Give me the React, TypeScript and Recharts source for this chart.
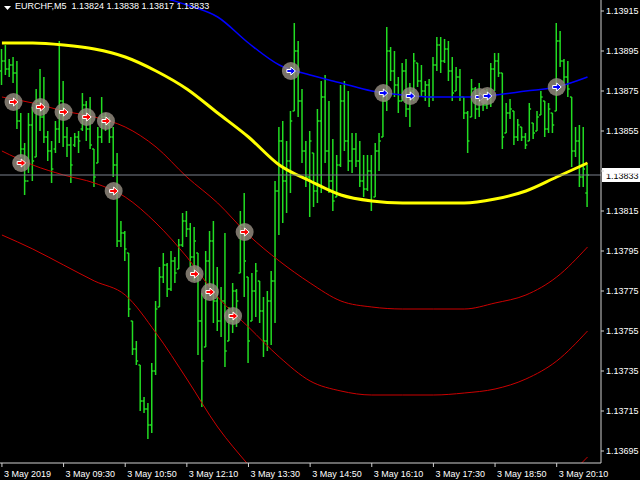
import { ComposedChart, Bar, Line, Scatter, XAxis, YAxis, ReferenceLine } from 'recharts'

const FONT = '"Liberation Sans", Arial, sans-serif'
const BAR = '#22dd22'
const RED = '#cc0000'

const symbol = 'EURCHF,M5'
const timeLabels = ['3 May 2019', '3 May 09:30', '3 May 10:50', '3 May 12:10', '3 May 13:30', '3 May 14:50', '3 May 16:10', '3 May 17:30', '3 May 18:50', '3 May 20:10']
const priceTicks = [1.13915, 1.13895, 1.13875, 1.13855, 1.13835, 1.13815, 1.13795, 1.13775, 1.13755, 1.13735, 1.13715, 1.13695]

// 5 minute bars, 08:10 .. 20:50
const opens = [
  1.13885, 1.1389, 1.13886, 1.13888, 1.13884, 1.1386, 1.13846, 1.1383, 1.13858, 1.13842,
  1.1387, 1.13862, 1.13852, 1.13845, 1.13846, 1.13856, 1.1387, 1.13852, 1.13848, 1.13848,
  1.13852, 1.13856, 1.13868, 1.13856, 1.13846, 1.13839, 1.13852, 1.13862, 1.13858, 1.13852,
  1.13838, 1.138, 1.13804, 1.13794, 1.1376, 1.13746, 1.13738, 1.1372, 1.13716, 1.13708,
  1.13735, 1.13767, 1.13782, 1.13788, 1.13776, 1.1379, 1.13786, 1.13798, 1.1381, 1.13806,
  1.13792, 1.13794, 1.1376, 1.13747, 1.1379, 1.138, 1.1377, 1.1376, 1.1377, 1.1375,
  1.1376, 1.13775, 1.13784, 1.13808, 1.13782, 1.1376, 1.13775, 1.1378, 1.13765, 1.1375,
  1.1377, 1.1378, 1.13825, 1.1385, 1.1383, 1.1384, 1.13865, 1.13895, 1.1387, 1.13845,
  1.13832, 1.13844, 1.13825, 1.1386, 1.13872, 1.13845, 1.1383, 1.13822, 1.13838, 1.1387,
  1.1385, 1.1384, 1.13846, 1.1384, 1.1383, 1.13826, 1.13835, 1.13822, 1.13845, 1.13852,
  1.1387, 1.13895, 1.13885, 1.13878, 1.1387, 1.13885, 1.13866, 1.13875, 1.13889, 1.1388,
  1.13875, 1.13878, 1.13872, 1.13888, 1.13898, 1.1389, 1.13896, 1.13885, 1.13875, 1.13882,
  1.13872, 1.13864, 1.13862, 1.13876, 1.13866, 1.13874, 1.13868, 1.13873, 1.13886, 1.1389,
  1.13884, 1.13854, 1.13864, 1.13865, 1.13852, 1.13857, 1.13852, 1.1385, 1.13859, 1.13855,
  1.13863, 1.1387, 1.13856, 1.13864, 1.13865, 1.139, 1.1389, 1.13882, 1.13872, 1.13845,
  1.1385, 1.13832, 1.13824,
]
const highs = [
  1.13896, 1.13898, 1.13891, 1.13892, 1.1389, 1.13864, 1.13849, 1.13864, 1.13867, 1.13876,
  1.13886, 1.13882, 1.13855, 1.1385, 1.1386, 1.139, 1.1388, 1.13857, 1.13852, 1.13854,
  1.13855, 1.13874, 1.1387, 1.13872, 1.13846, 1.13857, 1.13872, 1.13864, 1.13862, 1.13857,
  1.13844, 1.1381, 1.13805, 1.13794, 1.1376, 1.1375, 1.13738, 1.13722, 1.13719, 1.13739,
  1.1377, 1.13787, 1.13794, 1.13789, 1.13795, 1.13792, 1.13801, 1.13814, 1.13815, 1.13809,
  1.13807, 1.13794, 1.13774, 1.13795, 1.13805, 1.1381, 1.13787, 1.13777, 1.13804, 1.13767,
  1.13779, 1.13776, 1.13815, 1.13824, 1.13782, 1.13784, 1.13789, 1.1378, 1.13772, 1.13775,
  1.13785, 1.1383, 1.13857, 1.1386, 1.1385, 1.13865, 1.13909, 1.139, 1.13876, 1.1385,
  1.13855, 1.13844, 1.13866, 1.1388, 1.13883, 1.1387, 1.13851, 1.13843, 1.13878, 1.1388,
  1.13875, 1.13854, 1.13854, 1.1385, 1.13843, 1.13843, 1.13843, 1.13849, 1.13854, 1.13875,
  1.13907, 1.13897, 1.13895, 1.13882, 1.13889, 1.13891, 1.13879, 1.13894, 1.13889, 1.13888,
  1.1388, 1.13881, 1.13892, 1.13902, 1.13902, 1.13901, 1.139, 1.13892, 1.13887, 1.13886,
  1.13872, 1.13865, 1.13881, 1.13877, 1.13879, 1.13874, 1.13876, 1.13889, 1.13894, 1.13894,
  1.13884, 1.13869, 1.13871, 1.13865, 1.13861, 1.13857, 1.13854, 1.13869, 1.13859, 1.13865,
  1.13875, 1.1387, 1.13869, 1.13864, 1.13909, 1.13905, 1.13891, 1.1389, 1.13872, 1.13857,
  1.13858, 1.13857, 1.13838,
]
const lows = [
  1.13878, 1.13883, 1.13882, 1.13879, 1.13856, 1.13842, 1.13823, 1.13834, 1.1383, 1.13842,
  1.13855, 1.13849, 1.1384, 1.13829, 1.13844, 1.13849, 1.13847, 1.13842, 1.13829, 1.13847,
  1.13844, 1.13855, 1.1385, 1.13846, 1.13827, 1.13839, 1.13849, 1.13855, 1.13849, 1.13832,
  1.13797, 1.13797, 1.1379, 1.13762, 1.13743, 1.13738, 1.13715, 1.13714, 1.13701, 1.13704,
  1.13733, 1.13767, 1.13779, 1.13772, 1.13775, 1.13779, 1.13786, 1.13797, 1.13802, 1.13787,
  1.1378, 1.13743, 1.13717, 1.13747, 1.13777, 1.13759, 1.13755, 1.13752, 1.13737, 1.1375,
  1.13754, 1.13757, 1.13784, 1.13772, 1.13739, 1.1376, 1.13762, 1.13759, 1.13742, 1.13745,
  1.13748, 1.13759, 1.13803, 1.13809, 1.13814, 1.13824, 1.13865, 1.13862, 1.13839, 1.13827,
  1.13812, 1.13817, 1.13819, 1.13824, 1.13839, 1.13824, 1.13815, 1.13822, 1.13837, 1.13845,
  1.13835, 1.13834, 1.13837, 1.13827, 1.13822, 1.13825, 1.13815, 1.13822, 1.13835, 1.13852,
  1.13865, 1.1388, 1.13872, 1.13864, 1.1387, 1.13862, 1.13857, 1.1387, 1.13877, 1.13872,
  1.1387, 1.13867, 1.1387, 1.13885, 1.13884, 1.13889, 1.1388, 1.1387, 1.13875, 1.1387,
  1.13861, 1.13844, 1.13862, 1.13861, 1.13862, 1.13865, 1.13866, 1.13867, 1.13875, 1.13882,
  1.13846, 1.13854, 1.13861, 1.13848, 1.1385, 1.1385, 1.13846, 1.1385, 1.13851, 1.13855,
  1.13863, 1.13852, 1.13854, 1.13854, 1.13865, 1.13887, 1.13879, 1.13872, 1.13837, 1.13842,
  1.13827, 1.13827, 1.13817,
]
const closes = [
  1.1389, 1.13886, 1.13888, 1.13884, 1.1386, 1.13846, 1.1383, 1.13858, 1.1384, 1.1387,
  1.13862, 1.13852, 1.13845, 1.13836, 1.13856, 1.1387, 1.13852, 1.13848, 1.13838, 1.13852,
  1.1385, 1.13868, 1.13856, 1.13848, 1.13832, 1.13852, 1.13862, 1.13858, 1.13852, 1.13838,
  1.138, 1.13804, 1.13796, 1.13766, 1.13746, 1.1374, 1.1372, 1.13716, 1.13708, 1.13735,
  1.13766, 1.13782, 1.13788, 1.13776, 1.1379, 1.13784, 1.13798, 1.1381, 1.13806, 1.13792,
  1.138, 1.1376, 1.1374, 1.1379, 1.138, 1.1377, 1.1376, 1.1377, 1.13745, 1.1376,
  1.13775, 1.1377, 1.13808, 1.1379, 1.1375, 1.13775, 1.13785, 1.13765, 1.1375, 1.1377,
  1.1378, 1.13825, 1.1385, 1.1383, 1.1384, 1.1386, 1.13895, 1.1387, 1.13845, 1.13832,
  1.1385, 1.13825, 1.1386, 1.13872, 1.13845, 1.1383, 1.1382, 1.13838, 1.1387, 1.1385,
  1.1384, 1.13846, 1.1384, 1.1383, 1.13826, 1.13835, 1.1382, 1.13845, 1.1385, 1.1387,
  1.13895, 1.13885, 1.13878, 1.1387, 1.13885, 1.13866, 1.13875, 1.1389, 1.1388, 1.13875,
  1.13878, 1.13872, 1.13888, 1.13898, 1.1389, 1.13896, 1.13885, 1.13874, 1.13882, 1.13872,
  1.13864, 1.1385, 1.13876, 1.13866, 1.13874, 1.13868, 1.13873, 1.13886, 1.1389, 1.13884,
  1.13852, 1.13864, 1.13866, 1.13852, 1.13858, 1.13852, 1.13848, 1.13866, 1.13854, 1.13862,
  1.13872, 1.13856, 1.13866, 1.13858, 1.139, 1.1389, 1.13882, 1.13876, 1.13845, 1.1385,
  1.13832, 1.13836, 1.13833,
]

// indicator lines, read every 8th bar
const lineBars = [0, 8, 16, 24, 32, 40, 48, 56, 64, 72, 80, 88, 96, 104, 112, 120, 128, 136, 144, 152]
const maYellow = [1.13899, 1.13899, 1.13898, 1.13896, 1.13892, 1.13885, 1.13876, 1.13864, 1.13852, 1.13838, 1.1383, 1.13823, 1.1382, 1.13819, 1.13819, 1.13819, 1.13821, 1.13825, 1.13832, 1.13839]
const bandBlue = [null, null, null, null, 1.1393, 1.13923, 1.13918, 1.13912, 1.13899, 1.13888, 1.13883, 1.13879, 1.13875, 1.13873, 1.13872, 1.13872, 1.13873, 1.13875, 1.13877, 1.13882]
const bandRed1 = [1.13872, 1.13869, 1.13865, 1.13862, 1.13857, 1.13847, 1.13832, 1.13819, 1.13803, 1.1379, 1.13779, 1.1377, 1.13767, 1.13766, 1.13766, 1.13766, 1.13769, 1.13773, 1.13782, 1.13797]
const bandRed2 = [1.13845, 1.13838, 1.13833, 1.13829, 1.13822, 1.13809, 1.13792, 1.13772, 1.13757, 1.13742, 1.1373, 1.13725, 1.13723, 1.13723, 1.13723, 1.13724, 1.13726, 1.13731, 1.1374, 1.13755]
const bandRed3 = [1.13803, 1.13796, 1.13788, 1.1378, 1.13773, 1.13754, 1.13731, 1.13707, 1.13688, 1.13671, 1.13661, 1.13657, 1.13656, 1.13655, 1.13655, 1.13656, 1.13659, 1.13665, 1.13677, 1.13692]

const redSignalBars = [3, 5, 10, 16, 22, 27, 29, 50, 54, 60, 63]
const redSignalPrices = [1.138695, 1.13839, 1.13867, 1.138645, 1.13862, 1.1386, 1.13825, 1.137835, 1.137745, 1.137625, 1.138045]
const blueSignalBars = [75, 99, 106, 124, 126, 144]
const blueSignalPrices = [1.13885, 1.13874, 1.138725, 1.13872, 1.138725, 1.13877]

const last = closes.length - 1
const bid = closes[last]

const rows = Array.from({ length: 156 }, (_, i) => {
  const k = lineBars.indexOf(i)
  const has = i <= last
  return {
    i,
    range: has ? [lows[i], highs[i]] : null,
    open: has ? opens[i] : null,
    high: has ? highs[i] : null,
    low: has ? lows[i] : null,
    close: has ? closes[i] : null,
    yellow: k >= 0 ? maYellow[k] : null,
    blue: k >= 0 ? bandBlue[k] : null,
    red1: k >= 0 ? bandRed1[k] : null,
    red2: k >= 0 ? bandRed2[k] : null,
    red3: k >= 0 ? bandRed3[k] : null,
  }
})
const redSignals = redSignalBars.map((i, n) => ({ i, p: redSignalPrices[n] }))
const blueSignals = blueSignalBars.map((i, n) => ({ i, p: blueSignalPrices[n] }))

const OhlcBar = (props: any) => {
  const { x, y, width, height, payload } = props
  if (payload == null || payload.high == null) return null
  const top = Math.min(y, y + height)
  const h = Math.abs(height)
  const cx = x + width / 2
  const span = payload.high - payload.low || 1
  const py = (v: number) => top + ((payload.high - v) / span) * h
  return (
    <g stroke={BAR} strokeWidth={1.5}>
      <line x1={cx} x2={cx} y1={top} y2={top + h} />
      <line x1={cx - 1.8} x2={cx} y1={py(payload.open)} y2={py(payload.open)} />
      <line x1={cx} x2={cx + 1.8} y1={py(payload.close)} y2={py(payload.close)} />
    </g>
  )
}

const arrow = (cx: number, cy: number) =>
  `M${cx - 4},${cy - 1.5} L${cx},${cy - 1.5} L${cx},${cy - 4} L${cx + 4.5},${cy} L${cx},${cy + 4} L${cx},${cy + 1.5} L${cx - 4},${cy + 1.5} Z`

const makeSignal = (color: string) => (props: any) => {
  const { cx, cy } = props
  if (cx == null || cy == null) return null
  return (
    <g>
      <circle cx={cx} cy={cy} r={9} fill="#958c80" fillOpacity={0.82} />
      <path d={arrow(cx, cy)} fill={color} stroke="#ffffff" strokeWidth={1} />
    </g>
  )
}
const RedSignal = makeSignal('#ff0000')
const BlueSignal = makeSignal('#0000ff')

const TimeTick = (props: any) => {
  const { x, y, payload } = props
  const label = timeLabels[Math.round(payload.value / 16)]
  return (
    <text x={x + 2} y={y + 8} fill="#ffffff" fontSize={9} fontFamily={FONT} textAnchor="start">
      {label}
    </text>
  )
}

const BidTag = (props: any) => {
  const { x, y, width } = props.viewBox
  return (
    <g>
      <rect x={x + width + 1} y={y - 7} width={39} height={14} fill="#ffffff" />
      <text x={x + width + 5} y={y + 3.5} fontSize={9} fontFamily={FONT} fill="#000000">
        {bid.toFixed(5)}
      </text>
    </g>
  )
}

const lineProps = { type: 'monotone' as const, dot: false, activeDot: false, connectNulls: true, isAnimationActive: false }

export default function App() {
  return (
    <div style={{ position: 'absolute', left: 0, top: 0, width: 640, height: 480, background: '#000000', overflow: 'hidden' }}>
      <ComposedChart width={640} height={480} data={rows} margin={{ top: 0, right: 0, left: 0, bottom: 0 }}>
        <XAxis
          dataKey="i"
          type="category"
          allowDuplicatedCategory={false}
          interval={15}
          height={17}
          tickSize={4}
          tickMargin={2}
          axisLine={{ stroke: '#d0d0d0' }}
          tickLine={{ stroke: '#d0d0d0' }}
          tick={<TimeTick />}
        />
        <YAxis
          orientation="right"
          width={39}
          domain={[1.13689, 1.139205]}
          allowDataOverflow
          ticks={priceTicks}
          interval={0}
          tickSize={3}
          tickMargin={2}
          axisLine={{ stroke: '#d0d0d0' }}
          tickLine={{ stroke: '#d0d0d0' }}
          tick={{ fill: '#ffffff', fontSize: 9, fontFamily: FONT }}
          tickFormatter={(v: number) => v.toFixed(5)}
        />
        <Bar dataKey="range" barSize={3} shape={<OhlcBar />} isAnimationActive={false} />
        <Line dataKey="red3" stroke={RED} strokeWidth={1} {...lineProps} />
        <Line dataKey="red2" stroke={RED} strokeWidth={1} {...lineProps} />
        <Line dataKey="red1" stroke={RED} strokeWidth={1} {...lineProps} />
        <Line dataKey="blue" stroke="#0000ff" strokeWidth={1.5} {...lineProps} />
        <Line dataKey="yellow" stroke="#ffff00" strokeWidth={3} {...lineProps} />
        <ReferenceLine y={bid} stroke="#7a808c" strokeWidth={1} label={BidTag} />
        <Scatter data={redSignals} dataKey="p" shape={<RedSignal />} isAnimationActive={false} />
        <Scatter data={blueSignals} dataKey="p" shape={<BlueSignal />} isAnimationActive={false} />
      </ComposedChart>
      <svg width={12} height={12} style={{ position: 'absolute', left: 2, top: 2 }}>
        <path d="M2,4 L9,4 L5.5,8 Z" fill="#ffffff" />
      </svg>
      <div style={{ position: 'absolute', left: 15, top: 1, color: '#ffffff', font: `9px ${FONT}`, whiteSpace: 'pre' }}>
        {`${symbol}  ${opens[last].toFixed(5)} ${highs[last].toFixed(5)} ${lows[last].toFixed(5)} ${bid.toFixed(5)}`}
      </div>
    </div>
  )
}
